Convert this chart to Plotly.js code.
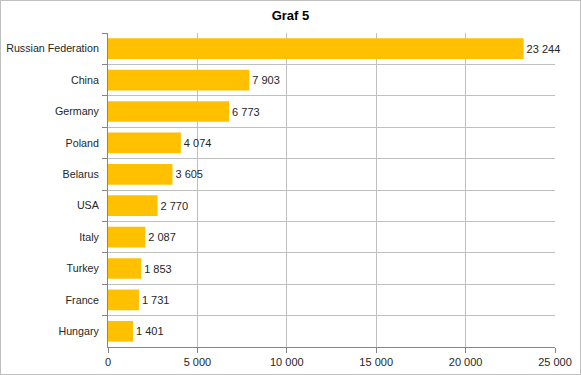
<!DOCTYPE html>
<html>
<head>
<meta charset="utf-8">
<script src="https://cdn.plot.ly/plotly-3.0.1.min.js"></script>
<style>
html,body{margin:0;padding:0;background:#fff;}
#wrap{position:relative;width:581px;height:375px;}
#chart{width:581px;height:375px;}
#frame{position:absolute;left:0;top:0;width:579px;height:373px;border:1px solid #BFBFBF;pointer-events:none;}
</style>
</head>
<body>
<div id="wrap"><div id="chart"></div><div id="frame"></div></div>
<script>
const countries = ["Russian Federation","China","Germany","Poland","Belarus","USA","Italy","Turkey","France","Hungary"];
const values = [23244, 7903, 6773, 4074, 3605, 2770, 2087, 1853, 1731, 1401];
const xTicks = [0, 5000, 10000, 15000, 20000, 25000];
const chartTitle = "Graf 5";

const fontFam = "Liberation Sans, Arial, sans-serif";
const txtCol = "#262626";
const trace = {
  type: "bar",
  orientation: "h",
  y: countries,
  x: values,
  marker: {color: "#FFC000"},
  texttemplate: "%{x:,}",
  textposition: "outside",
  textfont: {family: fontFam, size: 11, color: txtCol},
  cliponaxis: false,
  hoverinfo: "none"
};
const layout = {
  width: 581, height: 375,
  margin: {l: 108, r: 26, t: 33, b: 28},
  paper_bgcolor: "#fff", plot_bgcolor: "#fff",
  separators: ", ",
  bargap: 0.34,
  showlegend: false,
  title: {text: "<b>" + chartTitle + "</b>", x: 0.5, xanchor: "center", y: 0.958, yanchor: "middle",
          font: {family: fontFam, size: 13, color: "#000"}},
  xaxis: {
    range: [0, 25000], tickvals: xTicks, tickformat: ",",
    showgrid: true, gridcolor: "#BFBFBF", gridwidth: 1,
    zeroline: false, showline: true, linecolor: "#868686",
    ticks: "outside", ticklen: 5, tickcolor: "#868686",
    tickfont: {family: fontFam, size: 11, color: txtCol},
    fixedrange: true
  },
  yaxis: {
    type: "category", categoryorder: "array", categoryarray: countries,
    autorange: "reversed",
    tickson: "boundaries",
    showgrid: true, gridcolor: "#BFBFBF", gridwidth: 1,
    zeroline: false, showline: true, linecolor: "#868686",
    ticks: "outside", ticklen: 5, tickcolor: "#868686",
    tickfont: {family: fontFam, size: 10.7, color: txtCol},
    ticklabelstandoff: 6,
    fixedrange: true
  }
};
Plotly.newPlot("chart", [trace], layout, {displayModeBar: false, staticPlot: true});
</script>
</body>
</html>
